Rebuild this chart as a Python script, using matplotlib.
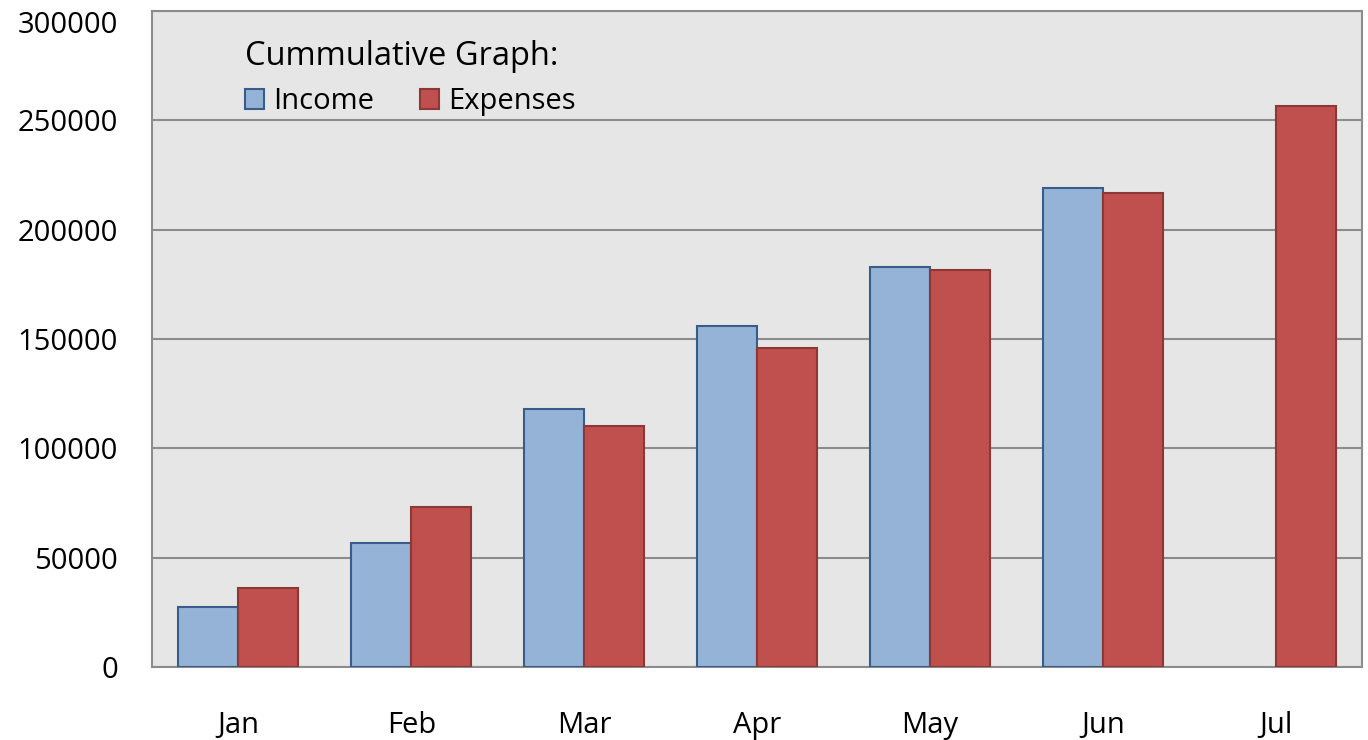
import numpy as np
from matplotlib import pyplot as plt

months = ['Jan', 'Feb', 'Mar', 'Apr', 'May', 'Jun', 'Jul']
income = [27300, 56900, 117900, 156000, 183000, 219200, np.nan]
expenses = [36000, 73400, 110100, 145900, 181700, 217000, 256400]

plt.rcParams['font.family'] = ['Open Sans', 'DejaVu Sans']

fig = plt.figure(figsize=(13.68, 7.4), dpi=100)
ax = fig.add_axes([0.1111, 0.0986, 0.8845, 0.8865])
ax.set_facecolor('#e6e6e6')

x = np.arange(len(months))
w = 0.347
ax.bar(x - w / 2, income, w, color='#95b3d7', edgecolor='#385d8a',
       linewidth=1.5, label='Income', zorder=3)
ax.bar(x + w / 2, expenses, w, color='#c0504d', edgecolor='#8c3836',
       linewidth=1.5, label='Expenses', zorder=3)

ax.set_xlim(-0.5, len(months) - 0.5)
ax.set_ylim(0, 300000)
ax.set_yticks(np.arange(0, 300001, 50000))
ax.set_xticks(x)
ax.set_xticklabels(months)
ax.yaxis.grid(True, color='#8c8c8c', linewidth=1.5, zorder=1)
ax.tick_params(axis='both', length=0, labelsize=21, colors='black')
ax.tick_params(axis='y', pad=24.5)
ax.tick_params(axis='x', pad=32)
ax.get_yticklabels()[-1].set_va('top')
for s in ax.spines.values():
    s.set_color('#8c8c8c')
    s.set_linewidth(1.5)

leg = ax.legend(loc='upper left', bbox_to_anchor=(0.0769, 0.956), ncol=2,
                frameon=False, title='Cummulative Graph:', fontsize=21,
                title_fontsize=23.5, handlelength=0.65, handleheight=0.65,
                handletextpad=0.3, columnspacing=1.6, alignment='left',
                borderpad=0, borderaxespad=0)

fig.savefig('out.png')
